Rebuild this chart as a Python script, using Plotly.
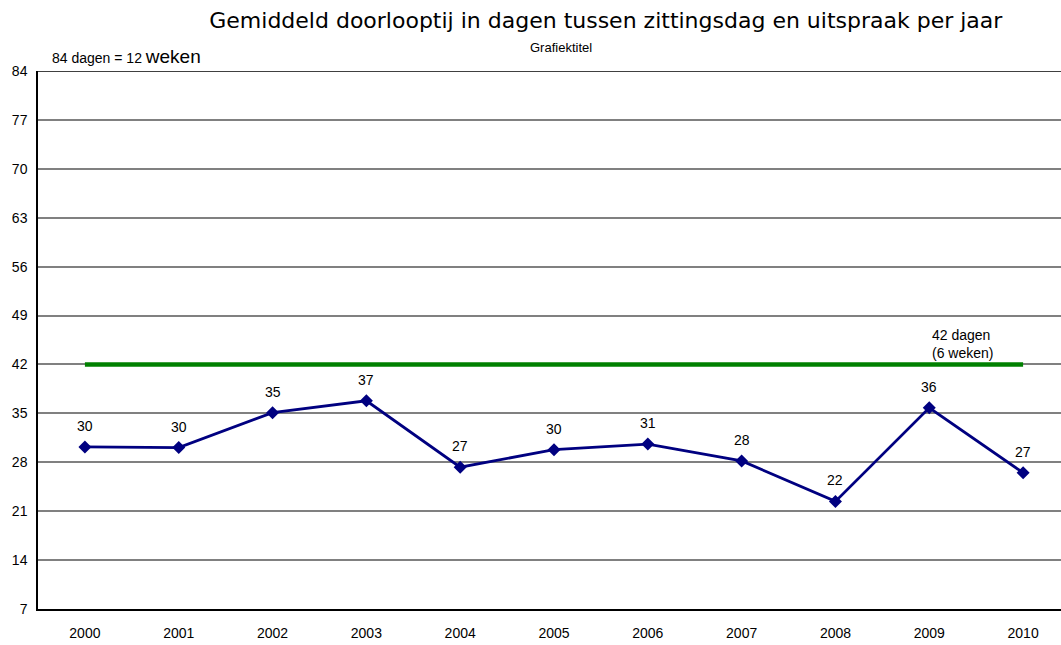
import plotly.graph_objects as go

years = [2000, 2001, 2002, 2003, 2004, 2005, 2006, 2007, 2008, 2009, 2010]
days = [30.2, 30.1, 35.1, 36.8, 27.3, 29.8, 30.6, 28.2, 22.4, 35.8, 26.5]
day_labels = ["30", "30", "35", "37", "27", "30", "31", "28", "22", "36", "27"]
norm = [42] * len(years)
y_ticks = [7, 14, 21, 28, 35, 42, 49, 56, 63, 70, 77, 84]
dark_grid = [84, 28, 14]

fig = go.Figure()
fig.add_trace(go.Scatter(
    x=years, y=norm, mode="lines",
    line=dict(color="#008000", width=4.5),
    hoverinfo="skip", showlegend=False))
fig.add_trace(go.Scatter(
    x=years, y=days, mode="lines+markers",
    line=dict(color="#000080", width=2.8),
    marker=dict(symbol="diamond", size=10, color="#000080"),
    showlegend=False))

for xv, yv, lab in zip(years, days, day_labels):
    fig.add_annotation(x=xv, y=yv, xref="x", yref="y", text=lab, showarrow=False,
                       yshift=21,
                       font=dict(family="Liberation Sans, Arial", size=14, color="#000000"))

for v in dark_grid:
    fig.add_shape(type="line", xref="paper", yref="y", x0=0, x1=1, y0=v, y1=v,
                  line=dict(color="#000000", width=1.5), layer="below")

fig.add_annotation(x=years[-1], y=norm[-1], xref="x", yref="y",
                   text="42 dagen<br>(6 weken)", showarrow=False,
                   xshift=-61, yshift=20, align="left",
                   font=dict(family="Liberation Sans, Arial", size=14, color="#000000"))
fig.add_annotation(x=0.0, y=1.0, xref="paper", yref="paper",
                   text="84 dagen = 12 <span style='font-size:19px'>weken</span>",
                   showarrow=False, xanchor="left", yanchor="bottom",
                   xshift=12, yshift=2,
                   font=dict(family="Liberation Sans, Arial", size=14, color="#000000"))
fig.add_annotation(x=0.5, y=1.0, xref="paper", yref="paper",
                   text="Grafiektitel", showarrow=False,
                   xanchor="center", yanchor="bottom", xshift=11, yshift=14,
                   font=dict(family="Liberation Sans, Arial", size=13, color="#000000"))

fig.update_layout(
    width=1061, height=645,
    margin=dict(l=38, r=0, t=71, b=36),
    paper_bgcolor="white", plot_bgcolor="white",
    title=dict(text="Gemiddeld doorlooptij in dagen tussen zittingsdag en uitspraak per jaar",
               x=0.571, xanchor="center", y=0.969, yanchor="middle",
               font=dict(family="DejaVu Sans", size=22, color="#000000")),
    font=dict(family="Liberation Sans, Arial", size=14, color="#000000"),
)
fig.update_xaxes(range=[1999.5, 2010.404], tickvals=years, showgrid=False, showline=True,
                 linecolor="#000000", linewidth=1.5, ticks="", zeroline=False,
                 tickfont=dict(size=14), ticklabelstandoff=10)
fig.update_yaxes(range=[7, 84], tickvals=y_ticks, showgrid=True, gridcolor="#808080",
                 gridwidth=1.5, showline=True, linecolor="#000000", linewidth=1.5,
                 ticks="", zeroline=False, tickfont=dict(size=14), ticklabelstandoff=6)

fig.write_html("out.html", config={"displayModeBar": False},
               post_script="document.body.style.margin='0';")
